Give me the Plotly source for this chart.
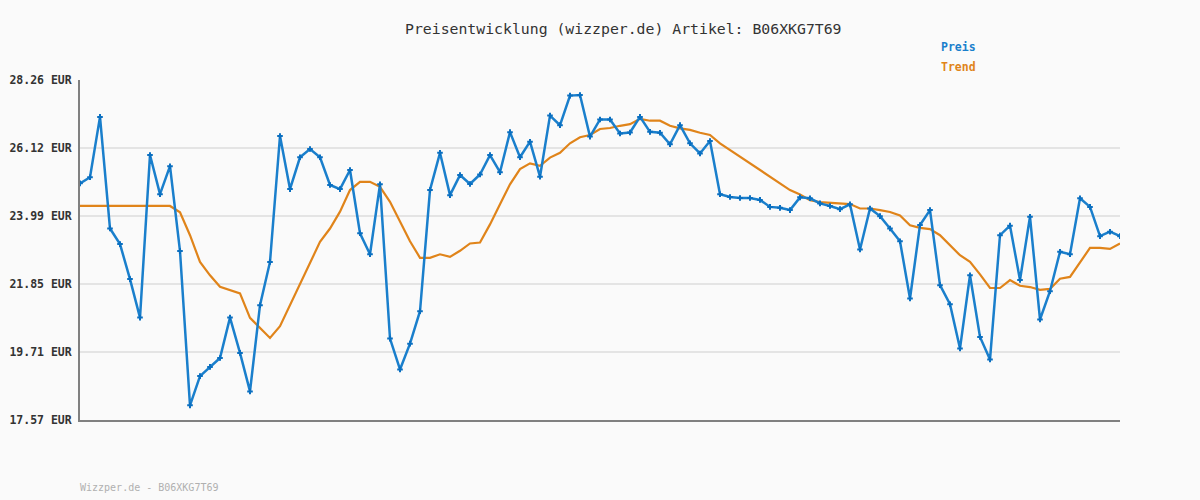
import plotly.graph_objects as go

title_text = "Preisentwicklung (wizzper.de) Artikel: B06XKG7T69"
footer_text = "Wizzper.de - B06XKG7T69"

preis = [25.01, 25.20, 27.10, 23.59, 23.10, 22.00, 20.79, 25.90, 24.67, 25.55,
         22.88, 18.03, 18.95, 19.24, 19.52, 20.79, 19.68, 18.47, 21.18, 22.54,
         26.50, 24.83, 25.83, 26.09, 25.83, 24.96, 24.83, 25.43, 23.44, 22.78,
         24.98, 20.13, 19.16, 19.97, 20.99, 24.80, 25.97, 24.64, 25.27, 24.99,
         25.29, 25.90, 25.36, 26.62, 25.83, 26.32, 25.22, 27.14, 26.84, 27.77,
         27.79, 26.48, 27.02, 27.02, 26.58, 26.61, 27.10, 26.63, 26.60, 26.24,
         26.84, 26.27, 25.95, 26.34, 24.67, 24.58, 24.55, 24.55, 24.49, 24.27,
         24.24, 24.17, 24.57, 24.54, 24.38, 24.30, 24.20, 24.35, 22.93, 24.22,
         23.98, 23.59, 23.19, 21.39, 23.70, 24.17, 21.81, 21.21, 19.82, 22.12,
         20.18, 19.47, 23.38, 23.68, 21.97, 23.96, 20.73, 21.62, 22.86, 22.78,
         24.54, 24.27, 23.35, 23.49, 23.35]

trend = [24.30, 24.30, 24.30, 24.30, 24.30, 24.30, 24.30, 24.30, 24.30, 24.30,
         24.10, 23.38, 22.54, 22.12, 21.76, 21.65, 21.55, 20.78, 20.45, 20.15,
         20.52, 21.18, 21.81, 22.49, 23.17, 23.59, 24.12, 24.80, 25.06, 25.06,
         24.90, 24.43, 23.80, 23.19, 22.67, 22.67, 22.78, 22.70, 22.89, 23.12,
         23.15, 23.72, 24.35, 24.98, 25.46, 25.64, 25.56, 25.82, 25.97, 26.27,
         26.46, 26.53, 26.72, 26.75, 26.82, 26.87, 27.04, 26.98, 26.98, 26.82,
         26.74, 26.69, 26.60, 26.53, 26.27, 26.06, 25.85, 25.66, 25.45, 25.24,
         25.01, 24.80, 24.66, 24.48, 24.42, 24.40, 24.38, 24.36, 24.22, 24.22,
         24.17, 24.11, 24.00, 23.69, 23.61, 23.57, 23.38, 23.07, 22.75, 22.54,
         22.15, 21.72, 21.72, 21.97, 21.79, 21.75, 21.66, 21.69, 22.01, 22.07,
         22.51, 22.98, 22.98, 22.95, 23.12]

tick_vals = [17.57, 19.708, 21.846, 23.984, 26.122, 28.26]
tick_text = ["17.57 EUR", "19.71 EUR", "21.85 EUR", "23.99 EUR", "26.12 EUR", "28.26 EUR"]

x = list(range(len(preis)))

BLUE = "#1a7fcc"
ORANGE = "#e0841a"
MONO = "DejaVu Sans Mono, monospace"

H = 500
L, R, T, B = 80, 80, 80, 80
plot_h = H - T - B


def ypaper(py):
    return (H - B - py) / plot_h


def xpaper(px):
    return (px - L) / (1200 - L - R)


fig = go.Figure()
fig.add_trace(go.Scatter(x=x, y=trend, mode="lines", name="Trend",
                         line=dict(color=ORANGE, width=2.2), hoverinfo="skip"))
fig.add_trace(go.Scatter(x=x, y=preis, mode="lines+markers", name="Preis",
                         line=dict(color=BLUE, width=2.5),
                         marker=dict(symbol="cross-thin", size=4,
                                     line=dict(color="#0a6fc0", width=2), color="#0a6fc0")))

fig.update_layout(
    width=1200, height=500,
    margin=dict(l=L, r=R, t=T, b=B, autoexpand=False),
    paper_bgcolor="#fafafa", plot_bgcolor="#fafafa",
    showlegend=False,
    xaxis=dict(range=[0, len(preis) - 1], showgrid=False, zeroline=False,
               showticklabels=False, ticks="", showline=True, automargin=False,
               linecolor="#808080", linewidth=2),
    yaxis=dict(range=[17.57, 28.26], tickvals=tick_vals, ticktext=tick_text,
               showgrid=True, gridcolor="#e4e4e4", gridwidth=2, zeroline=False,
               showline=True, linecolor="#808080", linewidth=2, ticks="",
               ticklabelstandoff=4, automargin=False,
               tickfont=dict(family=MONO, size=11.5, color="#333333", weight="bold")),
    annotations=[
        dict(text=title_text, x=xpaper(623), y=ypaper(28), xref="paper", yref="paper",
             xanchor="center", yanchor="middle", showarrow=False,
             font=dict(family=MONO, size=14.8, color="#333333")),
        dict(text="Preis", x=xpaper(939), y=ypaper(47), xref="paper", yref="paper",
             xanchor="left", yanchor="middle", showarrow=False,
             font=dict(family=MONO, size=11.5, color=BLUE, weight="bold")),
        dict(text="Trend", x=xpaper(939), y=ypaper(67), xref="paper", yref="paper",
             xanchor="left", yanchor="middle", showarrow=False,
             font=dict(family=MONO, size=11.5, color=ORANGE, weight="bold")),
        dict(text=footer_text, x=xpaper(78), y=ypaper(487), xref="paper", yref="paper",
             xanchor="left", yanchor="middle", showarrow=False,
             font=dict(family=MONO, size=10, color="#b0b0b0")),
    ],
)

fig.write_html("out.html")
